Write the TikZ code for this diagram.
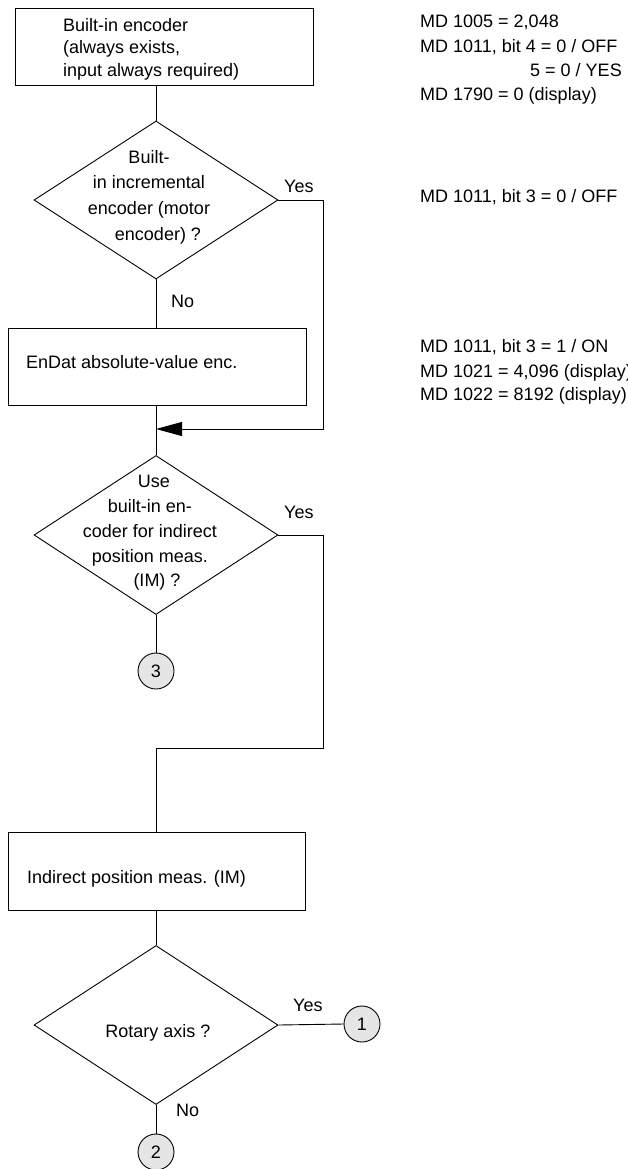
\documentclass[tikz,border=0pt]{standalone}
\usepackage{fontspec}
\setmainfont{Liberation Sans}
\usetikzlibrary{shapes.geometric,arrows.meta}

\tikzset{
  lbl/.style={inner sep=0pt, font=\fontsize{18}{24}\selectfont},
  note/.style={lbl, anchor=base west},
  stepbox/.style={draw, rectangle, inner sep=0pt, line width=0.9pt},
  decide/.style={draw, diamond, inner sep=0pt, line width=0.9pt},
  conn/.style={draw, circle, inner sep=0pt, line width=0.9pt, fill=gray!20,
               minimum size=36pt, font=\fontsize{18}{24}\selectfont},
  flow/.style={line width=0.9pt},
}

\begin{document}
\begin{tikzpicture}[x=1pt, y=-1pt]
\useasboundingbox (0,0) rectangle (628,1169);

% process boxes
\node[stepbox, minimum width=298pt, minimum height=77pt] (b1) at (164,46.5) {};
\node[stepbox, minimum width=298pt, minimum height=77pt] (b2) at (157,366.5) {};
\node[stepbox, minimum width=297pt, minimum height=78pt] (b3) at (156.5,871) {};

% decisions
\node[decide, minimum width=244pt, minimum height=158pt] (d1) at (156,200) {};
\node[decide, minimum width=244pt, minimum height=159pt] (d2) at (156,535) {};
\node[decide, minimum width=244pt, minimum height=159pt] (d3) at (156,1025) {};

% off-page connectors
\node[conn] (c3) at (156,671) {3};
\node[conn] (c1) at (362,1024) {1};
\node[conn] (c2) at (156,1152) {2};

% box texts
\node[note] (t1a) at (63,32) {Built-in encoder};
\node[note] (t1b) at (63,54) {(always exists,};
\node[note] (t1c) at (63,77) {input always required)};
\node[note] (t2) at (26,368) {EnDat absolute-value enc.};
\node[note] (t3) at (27,883) {Indirect position meas. (IM)};

% decision texts
\node[lbl, align=center, font=\fontsize{18}{25.7}\selectfont] (d1t) at (149,197)
  {Built-\\in incremental\\encoder (motor\\\hspace*{18pt}encoder) ?};
\node[lbl, align=center, font=\fontsize{18}{24.8}\selectfont] (d2t) at (150,533)
  {\hspace*{8pt}Use\\built-in en-\\coder for indirect\\position meas.\\\hspace*{14pt}(IM) ?};
\node[lbl, anchor=base] (d3t) at (158,1037) {Rotary axis ?};

% branch labels
\node[note] (y1) at (284,193) {Yes};
\node[note] (n1) at (171,307) {No};
\node[note] (y2) at (284,518) {Yes};
\node[note] (y3) at (293,1011) {Yes};
\node[note] (n3) at (176,1116) {No};

% machine parameters
\node[note] (m1) at (420,28) {MD 1005 = 2,048};
\node[note] (m2) at (420,53) {MD 1011, bit 4 = 0 / OFF};
\node[note] (m3) at (530,77) {5 = 0 / YES};
\node[note] (m4) at (420,101) {MD 1790 = 0 (display)};
\node[note] (m5) at (420,202) {MD 1011, bit 3 = 0 / OFF};
\node[note] (m6) at (420,352) {MD 1011, bit 3 = 1 / ON};
\node[note] (m7) at (420,377) {MD 1021 = 4,096 (display)};
\node[note] (m8) at (420,400) {MD 1022 = 8192 (display)};

% routing points
\coordinate (j1) at (156,429);
\coordinate (r1) at (323,429);
\coordinate (r2) at (323,748);
\coordinate (j2) at (156,748);

% connectors
\draw[flow] (d1.north |- b1.south) -- (d1.north);
\draw[flow] (d1.south) -- (d1.south |- b2.north);
\draw[flow, -{Triangle[length=26pt,width=14pt]}] (d1.east) -| (r1) -- (j1);
\draw[flow] (b2.south -| d2.north) -- (d2.north);
\draw[flow] (d2.south) -- (c3.north);
\draw[flow] (d2.east) -| (r2) -- (j2) -- (j2 |- b3.north);
\draw[flow] (b3.south -| d3.north) -- (d3.north);
\draw[flow] (d3.east) -- (c1.west);
\draw[flow] (d3.south) -- (c2.north);
\end{tikzpicture}
\end{document}
